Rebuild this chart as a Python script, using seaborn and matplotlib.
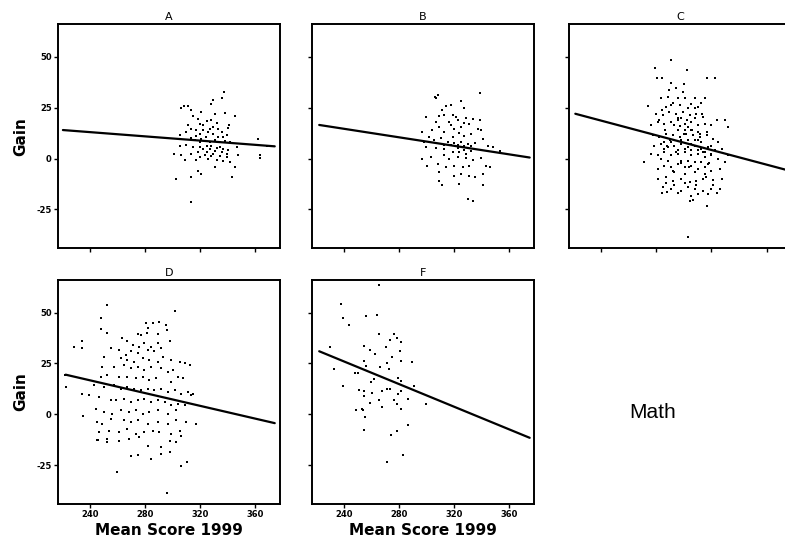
import numpy as np
import pandas as pd
import matplotlib
matplotlib.use("Agg")
import matplotlib.pyplot as plt
import seaborn as sns

# scatter data (Mean Score 1999 vs Gain)
a_x = [337.1, 335.4, 329.3, 327.5, 306.0, 307.7, 311.0, 313.4, 320.7, 330.5, 337.8, 345.2, 314.6, 318.3,
       324.4, 328.0, 331.7, 319.5, 311.0, 341.0, 340.3, 313.4, 317.0, 322.0, 326.8, 333.0, 335.4, 309.7,
       319.5, 329.3, 339.0, 304.8, 361.6, 323.9, 313.4, 315.8, 319.5, 323.1, 326.8, 330.5, 334.2, 337.8,
       341.5, 304.8, 309.7, 368.4, 346.4, 314.6, 322.0, 326.8, 331.7, 318.3, 324.4, 329.3, 335.4, 339.0,
       301.1, 305.5, 313.4, 347.6, 363.5, 363.0, 319.5, 325.6, 331.7, 336.6, 341.5, 309.0, 316.5, 330.5,
       345.2, 318.3, 320.7, 342.7, 313.4, 301.9, 313.4, 321.9, 325.6, 329.3, 317.0, 320.7, 332.9, 336.6,
       328.0, 334.2, 324.4, 319.5, 336.6, 340.3, 330.5, 323.1, 328.0, 334.2, 339.0]
a_y = [32.5, 29.9, 28.7, 26.7, 24.9, 25.6, 25.9, 23.8, 22.9, 22.1, 22.6, 20.9, 20.9, 19.6,
       18.3, 18.8, 17.7, 17.2, 16.3, 16.7, 15.0, 14.7, 13.9, 14.2, 14.7, 14.7, 13.0, 13.0,
       12.2, 12.2, 11.4, 11.4, 9.7, 10.5, 10.0, 8.9, 8.1, 8.6, 8.1, 8.9, 8.1, 8.6,
       8.1, 6.4, 6.8, 6.4, 5.6, 5.6, 4.8, 4.5, 5.1, 3.1, 3.1, 2.3, 3.1, 2.3,
       2.3, 1.8, 2.3, 1.8, 1.5, 0.2, 0.7, -0.1, -0.5, -1.0, -1.8, -0.5, -0.5, -4.3,
       -4.3, -5.9, -7.6, -9.2, -9.2, -10.0, -21.1, 16.3, 13.0, 15.5, 11.3, 9.7, 10.5, 10.5,
       6.4, 5.6, 6.4, 5.6, 4.8, 4.4, 3.9, 1.5, 1.1, 1.1, 0.6]

b_x = [339.1, 306.0, 308.0, 306.8, 325.1, 317.8, 314.1, 327.1, 311.6, 299.4, 309.2, 312.9, 319.0, 321.4,
       328.8, 333.7, 339.1, 306.8, 316.5, 322.7, 327.6, 331.2, 309.2, 317.8, 320.2, 325.1, 337.3, 339.8,
       297.0, 304.3, 312.9, 323.9, 332.4, 301.9, 310.4, 319.0, 327.6, 341.0, 298.2, 305.5, 315.3, 320.2,
       325.1, 330.0, 334.9, 344.7, 348.3, 299.4, 306.8, 312.9, 322.7, 327.6, 332.4, 353.2, 297.0, 303.1,
       312.9, 316.5, 322.7, 328.8, 333.7, 339.8, 300.6, 308.0, 314.1, 320.2, 326.3, 331.2, 343.4, 345.9,
       309.2, 320.2, 325.1, 331.2, 334.9, 341.0, 309.2, 311.6, 323.9, 341.0, 330.0, 333.7, 317.8, 322.7,
       312.9, 327.6, 332.4, 319.0, 323.9, 328.8]
b_y = [32.0, 30.3, 31.1, 29.5, 28.2, 26.5, 25.9, 24.9, 23.7, 20.4, 20.9, 21.3, 21.6, 20.4,
       19.9, 19.6, 18.8, 18.0, 18.0, 18.8, 17.6, 17.1, 15.5, 16.3, 14.7, 15.5, 14.7, 13.8,
       13.0, 13.8, 13.0, 12.7, 12.2, 10.5, 10.0, 10.5, 11.0, 9.7, 8.1, 8.9, 8.1, 7.7,
       8.1, 7.2, 7.7, 6.4, 5.6, 5.6, 5.1, 4.8, 5.1, 4.4, 3.9, 3.9, -0.2, 0.6,
       1.5, -0.2, 0.6, 0.1, -0.5, 0.1, -3.5, -2.7, -4.3, -3.5, -4.3, -3.8, -3.5, -4.3,
       -6.8, -8.4, -7.6, -8.4, -9.3, -7.6, -10.9, -13.1, -12.6, -13.1, -20.0, -20.8, 6.7, 6.7,
       6.7, 6.4, 6.0, 3.1, 3.1, 2.3]

c_x = [290.2, 278.9, 302.4, 280.4, 283.8, 316.4, 322.5, 290.7, 300.0, 289.4, 294.3, 299.2, 274.0, 287.0,
       291.9, 296.8, 305.3, 310.2, 315.1, 283.3, 288.2, 300.5, 307.8, 312.7,
       279.7, 284.5, 289.4, 294.3, 299.2, 304.1, 309.0, 313.9, 323.7, 329.8, 332.3,
       276.0, 280.9, 285.8, 290.7, 295.6, 300.5, 305.3, 310.2, 315.1, 320.0,
       277.2, 282.1, 287.0, 291.9, 296.8, 301.7, 306.6, 311.5, 316.4, 321.3,
       278.4, 283.3, 288.2, 293.1, 298.0, 302.9, 307.8, 312.7, 317.6, 322.5, 327.4, 332.3,
       276.0, 280.9, 285.8, 290.7, 295.6, 300.5, 305.3, 310.2, 315.1, 320.0, 324.9, 329.8, 270.6,
       280.9, 285.8, 290.7, 295.6, 300.5, 305.3, 310.2, 315.1, 320.0, 326.1,
       280.9, 287.0, 291.9, 298.0, 304.1, 309.0, 313.9, 321.3, 327.4,
       284.5, 290.7, 298.0, 302.9, 307.8, 313.9, 320.0, 326.1,
       283.8, 287.7, 295.6, 305.3, 310.2, 317.6, 323.7, 304.1, 306.6, 316.4, 302.9,
       295.6, 300.5, 305.3, 310.2, 298.0, 302.9, 307.8, 312.7, 295.6, 300.5, 305.3, 310.2, 315.1,
       298.0, 302.9, 307.8, 312.7, 317.6, 293.1, 302.9, 290.7, 285.8, 320.0, 288.2, 293.1, 300.5,
       307.8, 315.1, 290.7, 295.6, 302.9, 307.8, 298.0, 285.8, 324.9,
       282.0, 286.0, 290.0, 294.0, 298.0, 302.0, 306.0, 310.0, 314.0, 318.0,
       284.0, 288.0, 292.0, 296.0, 300.0, 304.0, 308.0, 312.0, 316.0, 320.0,
       283.0, 287.0, 293.0, 297.0, 301.0, 305.0, 309.0, 313.0, 317.0, 321.0]
c_y = [48.5, 44.4, 43.6, 39.5, 39.5, 39.5, 39.5, 37.0, 36.5, 33.7, 34.5, 32.9, 25.9, 25.4,
       27.1, 26.3, 26.6, 25.4, 29.5, 29.5, 30.4, 29.5, 29.5, 27.1,
       22.1, 21.3, 22.9, 22.1, 22.9, 21.3, 22.1, 20.5, 18.8, 18.8, 15.5,
       16.4, 18.0, 17.2, 18.0, 18.8, 17.2, 18.0, 16.4, 17.2, 16.4,
       11.4, 10.6, 12.2, 11.4, 10.6, 12.2, 11.4, 10.6, 11.4, 9.8,
       6.4, 7.3, 5.6, 6.4, 7.3, 5.6, 6.4, 4.8, 5.6, 4.0, 4.8, 1.5,
       2.3, 1.5, 3.1, 1.5, 2.3, 3.1, 1.5, 2.3, 0.7, 1.5, -0.2, -1.8, -1.5,
       -5.1, -3.5, -4.3, -2.6, -4.3, -3.5, -5.1, -4.3, -5.9, -5.1,
       -10.1, -9.2, -10.9, -10.1, -11.7, -10.9, -10.1, -10.4, -10.1,
       -14.2, -15.0, -15.8, -14.2, -15.0, -15.8, -15.0, -15.0,
       -16.7, -16.3, -16.7, -18.3, -17.5, -17.5, -16.7, -20.8, -20.3, -23.3, -38.4,
       13.9, 13.9, 13.9, 13.0, 8.9, 8.9, 8.9, 8.1, 4.0, 4.8, 4.0, 4.0, 3.2,
       -1.0, -1.0, -1.8, -1.8, -2.6, 16.4, 15.5, 8.1, 4.8, 6.4, -1.0, -6.8, -7.6,
       -6.8, -7.6, 26.3, 29.5, 24.6, 24.6, 19.7, 8.1, 8.1,
       19.0, 14.0, 9.0, 3.0, -2.0, 19.0, 14.0, 9.0, 3.0, -2.0,
       24.0, 6.0, -6.0, 20.0, 12.0, -4.0, 20.0, 12.0, -9.0, 2.0,
       0.0, -12.0, -13.0, 16.0, -12.0, 7.0, -13.0, 22.0, 13.0, -13.0]

d_x = [251.8, 301.2, 247.4, 247.4, 252.3, 280.4, 285.3, 290.2, 281.6, 295.1, 295.8, 274.3, 276.7, 281.1,
       289.0, 233.9, 227.8, 233.9, 263.3, 266.9, 270.6, 275.5, 279.2, 284.1, 289.0, 297.5,
       254.7, 260.8, 265.7, 269.4, 274.3, 281.6, 286.5, 291.4,
       249.8, 262.0, 266.9, 271.8, 278.0, 282.8, 289.0, 292.6, 298.8, 304.9, 308.5, 312.2,
       248.6, 257.2, 264.5, 269.4, 274.3, 279.2, 284.1, 291.4, 296.3, 300.0,
       221.7, 247.4, 252.3, 260.8, 266.9, 273.1, 278.0, 282.8, 287.7, 298.8, 303.6, 307.3, 222.4,
       242.5, 249.8, 257.2, 262.0, 266.9, 271.8, 276.7, 281.6, 286.5, 291.4, 296.3, 301.2, 306.1, 311.0, 314.7,
       233.9, 238.8, 246.1, 254.7, 258.4, 264.5, 269.4, 274.3, 279.2, 284.1, 289.0, 293.9, 298.8, 303.6,
       308.5, 313.4,
       243.7, 249.8, 255.9, 262.0, 268.2, 273.1, 278.0, 282.8, 289.0, 296.3, 302.4,
       234.6, 244.9, 248.6, 254.7, 264.5, 269.4, 274.3, 281.6, 289.0, 296.3, 302.4, 309.7, 317.1,
       246.1, 253.5, 260.8, 266.9, 273.1, 279.2, 285.3, 290.2, 298.8, 304.9, 306.1,
       244.9, 252.3, 260.8, 268.2, 275.5, 281.6, 291.4, 297.5, 302.4,
       269.4, 274.3, 284.1, 291.4, 297.5, 306.1, 310.5, 259.6, 295.8, 245.3, 252.2]
d_y = [53.9, 50.6, 47.3, 42.1, 39.9, 44.9, 44.9, 45.2, 42.4, 44.0, 41.6, 39.4, 39.1, 39.9,
       39.4, 35.8, 33.3, 32.5, 37.5, 35.8, 34.2, 33.3, 35.0, 33.3, 35.0, 35.8,
       32.5, 31.7, 29.2, 30.9, 30.0, 31.7, 30.9, 32.5,
       28.4, 27.5, 26.7, 25.9, 27.5, 26.7, 25.9, 28.4, 26.7, 25.9, 25.1, 24.2,
       23.4, 23.4, 24.2, 22.6, 23.4, 21.8, 23.4, 22.6, 21.0, 21.8,
       19.3, 18.5, 19.3, 18.5, 18.5, 17.7, 18.5, 16.8, 17.7, 16.0, 18.5, 17.7, 13.5,
       14.3, 13.5, 14.3, 12.7, 13.5, 12.7, 11.9, 12.7, 11.9, 12.7, 11.0, 11.9, 10.2, 11.0, 10.2,
       10.2, 9.4, 8.6, 6.9, 6.9, 7.7, 6.1, 6.9, 7.7, 6.1, 6.9, 6.1, 4.5, 5.3,
       4.5, 9.4,
       2.8, 1.2, 0.3, 2.0, 1.2, 2.0, 0.3, 1.2, 2.0, 0.3, 2.0,
       -0.8, -3.8, -4.6, -2.2, -3.0, -3.8, -3.0, -4.6, -3.8, -4.6, -3.0, -3.8, -4.6,
       -8.8, -8.0, -8.8, -7.1, -9.6, -8.8, -8.0, -8.8, -9.6, -8.0, -10.4,
       -12.4, -12.0, -12.9, -12.0, -11.2, -15.4, -16.2, -12.9, -13.7,
       -20.3, -20.0, -22.0, -19.5, -18.7, -25.3, -23.6, -28.1, -38.8, -12.5, -13.7]

f_x = [265.2, 237.8, 239.0, 243.9, 256.1, 264.0, 265.2, 276.2, 278.7, 281.1, 273.8, 254.2, 258.6, 262.2,
       270.8, 280.4, 275.0, 281.6, 289.7, 229.7, 232.6, 254.9, 256.1, 271.3, 272.5, 248.0, 250.0, 266.4,
       261.5, 259.8, 279.1, 281.8, 239.0, 251.0, 254.9, 260.3, 267.7, 271.3, 273.2, 281.6, 290.9, 279.1,
       254.2, 265.2, 276.7, 286.4, 259.1, 267.7, 278.2, 299.4, 248.8, 253.0, 253.7, 281.6, 255.4, 286.4,
       254.2, 278.2, 274.5, 283.0, 271.3]
f_y = [63.4, 54.3, 47.4, 43.7, 48.2, 49.0, 39.5, 39.5, 37.5, 35.5, 36.3, 33.7, 31.7, 29.7,
       33.3, 31.2, 28.4, 26.2, 25.9, 33.0, 22.1, 26.2, 23.8, 25.4, 22.1, 20.4, 20.4, 23.1,
       17.2, 16.0, 17.7, 16.5, 14.0, 11.9, 11.4, 10.6, 11.4, 12.7, 12.7, 11.5, 13.9, 9.9,
       8.9, 7.3, 6.9, 7.4, 5.6, 3.6, 5.3, 5.3, 2.3, 2.8, 2.0, 2.5, -1.3, -5.1,
       -7.6, -8.3, -9.9, -20.0, -23.3]

# fitted lines (end points)
a_fit_x, a_fit_y = [220, 374], [14, 6]
b_fit_x, b_fit_y = [222, 375], [16.5, 0.5]
c_fit_x, c_fit_y = [221, 374], [22, -5.5]
d_fit_x, d_fit_y = [222, 374], [19.5, -4.3]
f_fit_x, f_fit_y = [222, 375], [31, -11.5]

panel_names = ["A", "B", "C", "D", "F"]
x_ticks = [240, 280, 320, 360]
y_ticks = [-25, 0, 25, 50]

sns.set_style("ticks", {"axes.edgecolor": "black", "xtick.color": "black",
                        "ytick.color": "black", "text.color": "black",
                        "axes.labelcolor": "black"})
plt.rcParams['font.family'] = ['DejaVu Sans']

fig = plt.figure(figsize=(7.85, 5.49), dpi=100)
w, h = 0.283, 0.408
positions = {"A": (0.074, 0.548), "B": (0.397, 0.548), "C": (0.725, 0.548),
             "D": (0.074, 0.082), "F": (0.397, 0.082)}
data = {"A": (a_x, a_y, a_fit_x, a_fit_y), "B": (b_x, b_y, b_fit_x, b_fit_y),
        "C": (c_x, c_y, c_fit_x, c_fit_y), "D": (d_x, d_y, d_fit_x, d_fit_y),
        "F": (f_x, f_y, f_fit_x, f_fit_y)}

for name in panel_names:
    px, py = positions[name]
    ax = fig.add_axes([px, py, w, h])
    xs, ys, fx, fy = data[name]
    pts = pd.DataFrame({"score": xs, "gain": ys})
    fit = pd.DataFrame({"score": fx, "gain": fy})
    sns.scatterplot(data=pts, x="score", y="gain", ax=ax, color="black",
                    marker="s", s=3.5, linewidth=0)
    sns.lineplot(data=fit, x="score", y="gain", ax=ax, color="black", lw=1.6)
    ax.set_xlim(216.5, 378)
    ax.set_ylim(-44, 66)
    ax.set_xticks(x_ticks)
    ax.set_yticks(y_ticks)
    ax.tick_params(length=3, width=1, labelsize=6, pad=1.5, colors="black")
    for s in ax.spines.values():
        s.set_linewidth(1.4)
        s.set_color("black")
        s.set_visible(True)
    ax.set_title(name, fontsize=8, pad=3)
    ax.set_xlabel("")
    ax.set_ylabel("")
    if name in ("A", "D"):
        ax.set_ylabel("Gain", fontsize=11, fontweight="bold", labelpad=6)
        ax.set_yticklabels([str(t) for t in y_ticks], fontweight="bold")
    else:
        ax.set_yticklabels([])
    if name in ("D", "F"):
        ax.set_xlabel("Mean Score 1999", fontsize=11, fontweight="bold", labelpad=3)
        ax.set_xticklabels([str(t) for t in x_ticks], fontweight="bold")
    else:
        ax.set_xticklabels([])

fig.text(0.832, 0.248, "Math", fontsize=15, family="Liberation Sans",
         ha="center", va="center")

fig.savefig("out.png", dpi=100)
